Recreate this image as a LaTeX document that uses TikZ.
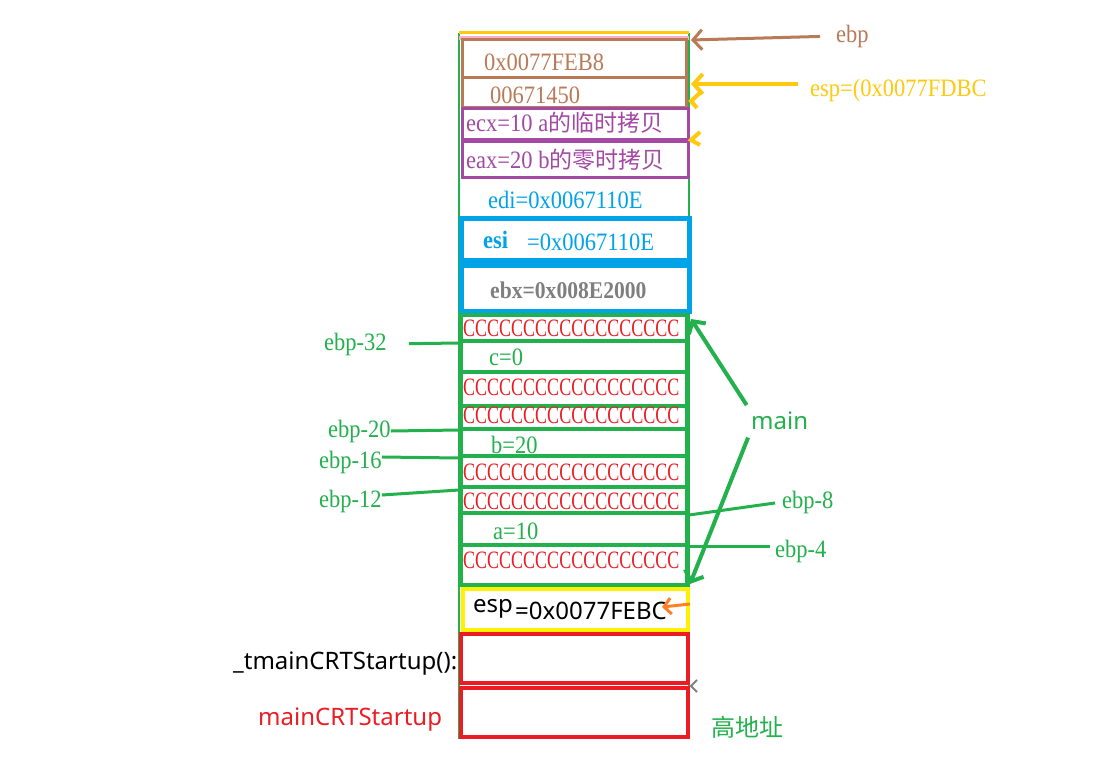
\documentclass[tikz,border=0pt]{standalone}
\usepackage{fontspec}
\usetikzlibrary{arrows.meta}
\newfontfamily\simf[FakeStretch=0.72]{Liberation Serif}
\newfontfamily\hexf[FakeStretch=0.9]{Liberation Serif}
\newfontfamily\cjkf{Noto Sans CJK SC}
\newfontfamily\uif{Noto Sans}
\definecolor{pbrown}{RGB}{185,122,87}
\definecolor{ppurple}{RGB}{163,73,164}
\definecolor{pblue}{RGB}{0,162,232}
\definecolor{pgreen}{RGB}{34,177,76}
\definecolor{pred}{RGB}{237,28,36}
\definecolor{pyellow}{RGB}{255,242,0}
\definecolor{pgold}{RGB}{255,201,14}
\definecolor{ppink}{RGB}{255,174,201}
\definecolor{porange}{RGB}{255,127,39}
\definecolor{pgray}{RGB}{127,127,127}
\begin{document}
\begin{tikzpicture}[x=1pt,y=-1pt,
  every node/.style={inner sep=0pt,anchor=west},
  mono/.style={font=\hexf\fontsize{25}{28}\selectfont},
  ccc/.style={font=\simf\fontsize{25}{28}\selectfont,text=pred},
  ui/.style={font=\uif\fontsize{24}{26}\selectfont},
  cjk/.style={font=\cjkf\fontsize{24}{26}\selectfont},
  barb/.style={-{Straight Barb[length=9pt,width=20pt]}},
  gline/.style={pgreen,line width=3},
]
\fill[white] (0,0) rectangle (1113,760);
\useasboundingbox (0,0) rectangle (1113,760);

% column outline
\draw[pgreen,line width=2] (459,33) -- (459,739);
\draw[pgreen,line width=2] (689,33) -- (689,739);
% top lines
\draw[ppink,line width=4] (459,38) -- (689,38);
\draw[pgold,line width=3] (459,33) -- (689,33);
% brown box
\draw[pbrown,line width=3] (462,40) rectangle (686,107);
\draw[pbrown,line width=3] (462,77) -- (686,77);
% purple boxes
\draw[ppurple,line width=3] (462,108) rectangle (688,139);
\draw[ppurple,line width=3] (462,141) rectangle (688,177);
% blue boxes
\draw[pblue,line width=5] (461,218) rectangle (689,260);
\draw[pblue,line width=5] (461,265) rectangle (689,311);
% green rows
\draw[pgreen,line width=4] (461,315) rectangle (687,585);
\foreach \yy in {341,372,406,429,456,487,513,545}
  \draw[pgreen,line width=4] (461,\yy) -- (687,\yy);
% yellow box
\draw[pyellow,line width=4] (463,589) rectangle (688,630);
% red boxes
\draw[pred,line width=4] (461,634) rectangle (688,683);
\draw[pred,line width=4] (461,688) rectangle (688,737);

% cell texts
\node[mono,text=pbrown] (fe) at (484,62) {0x0077FEB8};
\node[mono,text=pbrown] (ret) at (490,95) {00671450};
\node[mono,text=ppurple] (ecx) at (466,123) {ecx=10 a{\cjkf\fontsize{23}{26}\selectfont 的临时拷贝}};
\node[mono,text=ppurple] (eax) at (466,160) {eax=20 b{\cjkf\fontsize{23}{26}\selectfont 的零时拷贝}};
\node[mono,text=pblue] (edi) at (488,200) {edi=0x0067110E};
\node[mono,text=pblue,font=\hexf\bfseries\fontsize{25}{28}\selectfont] (esiA) at (483,240) {esi};
\node[mono,text=pblue] (esiB) at (527,242) {=0x0067110E};
\node[mono,text=pgray,font=\hexf\bfseries\fontsize{24}{28}\selectfont] (ebx) at (490,290) {ebx=0x008E2000};
\foreach \nm/\yy in {c1/328,c2/387,c3/415,c4/472,c5/501,c6/560}
  \node[ccc] (\nm) at (463,\yy) {CCCCCCCCCCCCCCCCCC};
\node[mono,text=pgreen] (cv) at (489,357) {c=0};
\node[mono,text=pgreen] (bv) at (491,445) {b=20};
\node[mono,text=pgreen] (av) at (493,531) {a=10};
\node[ui] (espA) at (473,609) {esp};
\node[ui] (espB) at (515,611) {=0x0077FEBC};

% left and bottom labels
\node[ui] (tmain) at (233,664) {\_tmainCRTStartup():};
\node[ui,text=pred] (mcrt) at (258,720) {mainCRTStartup};
\node[cjk,text=pgreen] (high) at (711,727) {高地址};
\node[ui,text=pgreen] (mainL) at (751,421) {main};

% ebp / esp pointers
\node[mono,text=pbrown] (ebpL) at (836,36) {ebp};
\coordinate (ebpTip) at (691,40);
\draw[pbrown,line width=3,barb,shorten <=16pt] (ebpL.west) -- (ebpTip);
\node[mono,text=pgold] (espL) at (810,90) {esp=(0x0077FDBC};
\coordinate (espTip) at (691,84);
\draw[pgold,line width=4,barb,shorten <=12pt] (espL.west) ++(0,-6) -- (espTip);
\draw[pgold,line width=4] (701,92) -- (691,101) -- (697,108);
\draw[pgold,line width=4] (700,132) -- (691,140) -- (700,145);

% main arrows
\coordinate (mainTop) at (691,319);
\coordinate (mainBot) at (690,584);
\draw[pgreen,line width=4,barb,shorten <=8pt] (mainL.north west) -- (mainTop);
\draw[pgreen,line width=4,barb,shorten <=8pt] (mainL.south west) -- (mainBot);

% offset labels
\node[mono,text=pgreen] (e32) at (324,344) {ebp-32};
\node[mono,text=pgreen] (e20) at (328,431) {ebp-20};
\node[mono,text=pgreen] (e16) at (319,462) {ebp-16};
\node[mono,text=pgreen] (e12) at (319,501) {ebp-12};
\node[mono,text=pgreen] (e8) at (782,502) {ebp-8};
\node[mono,text=pgreen] (e4) at (775,551) {ebp-4};
\coordinate (p32) at (459,343);
\coordinate (p20) at (459,430);
\coordinate (p16) at (459,458);
\coordinate (p12) at (459,490);
\coordinate (p8) at (689,515);
\coordinate (p4) at (689,546);
\draw[gline,shorten <=22pt] (e32.east) -- (p32);
\draw[gline] (e20.east) -- (p20);
\draw[gline] (e16.east) ++(0,-5) -- (p16);
\draw[gline] (e12.east) ++(0,-6) -- (p12);
\draw[gline,shorten <=7pt] (e8.west) -- (p8);
\draw[gline,shorten <=5pt] (e4.west) ++(0,-5) -- (p4);

% small pointers in the lower boxes
\coordinate (orTip) at (662,607);
\coordinate (orTail) at (690,604);
\draw[porange,line width=3,-{Straight Barb[length=7pt,width=16pt]}] (orTail) -- (orTip);
\draw[pgray,line width=2] (697,680) -- (691,686) -- (697,692);
\end{tikzpicture}
\end{document}
